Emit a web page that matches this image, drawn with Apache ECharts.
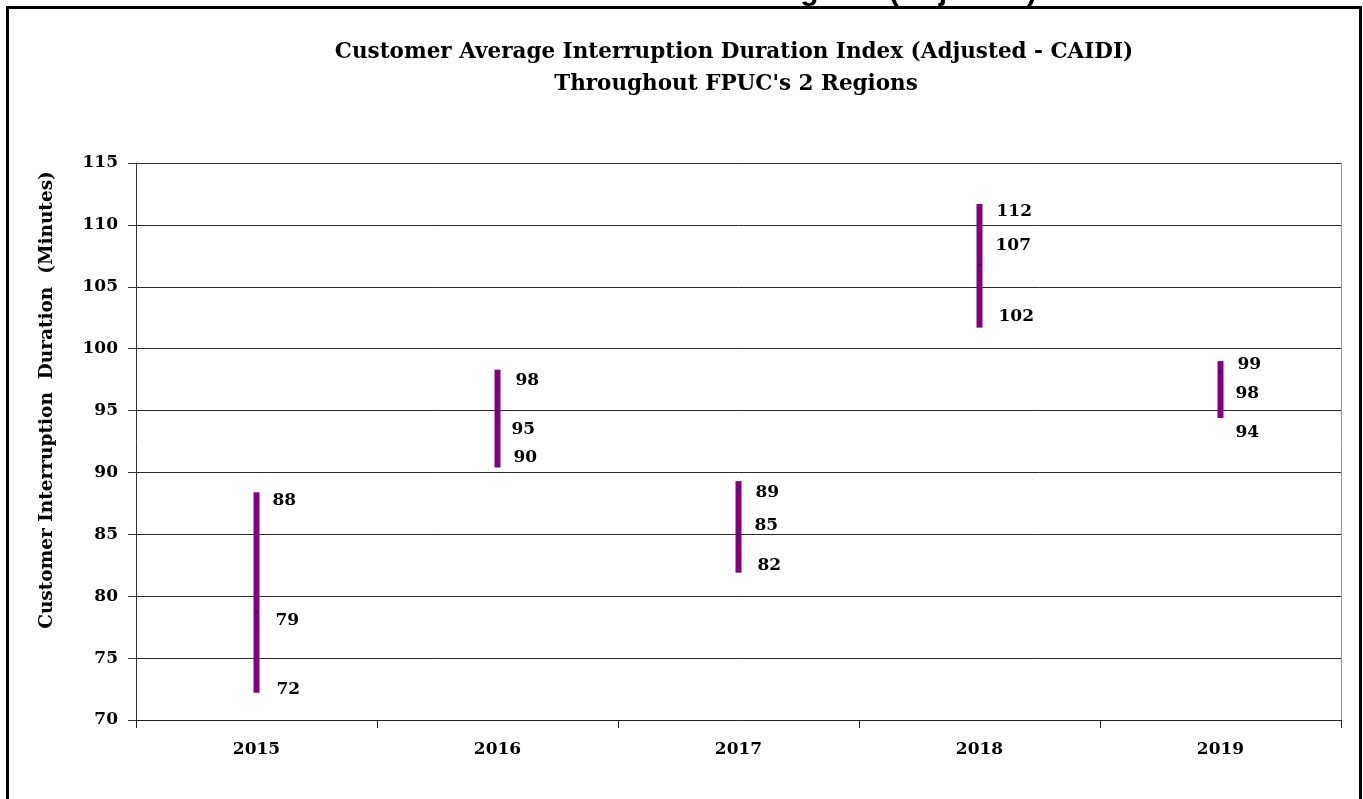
<!DOCTYPE html>
<html>
<head>
<meta charset="utf-8">
<script src="https://cdn.jsdelivr.net/npm/echarts@6/dist/echarts.min.js"></script>
<style>
  html, body { margin: 0; padding: 0; background: #fff; }
  #chart { width: 1363px; height: 799px; }
</style>
</head>
<body>
<div id="chart"></div>
<script>
// ---- data ----
const categories = ['2015', '2016', '2017', '2018', '2019'];
const highValues = [88.4, 98.3, 89.3, 111.7, 99.0];
const closeValues = [78.7, 95.0, 85.0, 106.8, 98.0];
const lowValues = [72.2, 90.4, 81.9, 101.7, 94.4];
const yTicks = { min: 70, max: 115, interval: 5 };
const titleLines = ['Customer Average Interruption Duration Index (Adjusted - CAIDI)', 'Throughout FPUC\'s 2 Regions'];
const yAxisTitle = 'Customer Interruption  Duration  (Minutes)';
const topBanner = 'Regions (Adjusted)';

// ---- label layout (pixel nudges, style only) ----
const highDx = [16, 18, 17, 17, 17], highDy = [8, 11, 11, 8, 4];
const midDx = [19, 14, 16, 16, 15], midDy = [8, 19, -9, -19, 20];
const lowDx = [20, 16, 19, 19, 15], lowDy = [-3, -10, -7, -11, 15];

const SERIF = '"DejaVu Serif", "Liberation Serif", serif';
const seriesData = categories.map((c, i) => [i, highValues[i], closeValues[i], lowValues[i]]);

const chart = echarts.init(document.getElementById('chart'), null, { renderer: 'canvas' });

function renderItem(params, api) {
  const i = api.value(0);
  const pH = api.coord([i, api.value(1)]);
  const pM = api.coord([i, api.value(2)]);
  const pL = api.coord([i, api.value(3)]);
  const lbl = (txt, x, y) => ({
    type: 'text',
    style: {
      text: txt, x: x, y: y,
      font: 'bold 17px ' + SERIF, fill: '#000',
      align: 'left', verticalAlign: 'middle'
    }
  });
  return {
    type: 'group',
    children: [
      { type: 'rect', shape: { x: pH[0] - 3, y: pH[1], width: 6, height: pL[1] - pH[1] },
        style: { fill: '#800080' } },
      { type: 'rect', shape: { x: pM[0] - 1, y: pM[1] - 1, width: 2, height: 2 },
        style: { fill: '#2b0030' } },
      lbl(String(Math.round(api.value(1))), pH[0] + highDx[i], pH[1] + highDy[i]),
      lbl(String(Math.round(api.value(2))), pM[0] + midDx[i], pM[1] + midDy[i]),
      lbl(String(Math.round(api.value(3))), pL[0] + lowDx[i], pL[1] + lowDy[i])
    ]
  };
}

chart.setOption({
  animation: false,
  backgroundColor: '#fff',
  grid: { left: 136, right: 22, top: 163, bottom: 79, containLabel: false },
  xAxis: {
    type: 'category', data: categories, boundaryGap: true,
    axisLine: { lineStyle: { color: '#222', width: 1 } },
    axisTick: { show: true, length: 8, lineStyle: { color: '#222' } },
    axisLabel: { fontFamily: SERIF, fontWeight: 'bold', fontSize: 17, color: '#000', margin: 21 },
    splitLine: { show: false }
  },
  yAxis: [{
    type: 'value', min: yTicks.min, max: yTicks.max, interval: yTicks.interval,
    axisLine: { show: true, lineStyle: { color: '#333', width: 1 } },
    axisTick: { show: true, length: 8, lineStyle: { color: '#333' } },
    axisLabel: { fontFamily: SERIF, fontWeight: 'bold', fontSize: 17, color: '#000', margin: 18 },
    splitLine: { show: true, lineStyle: { color: '#2a2a2a', width: 1 } }
  }, {
    type: 'value', position: 'right', min: yTicks.min, max: yTicks.max, interval: yTicks.interval,
    axisLine: { show: true, lineStyle: { color: '#999', width: 1 } },
    axisTick: { show: false }, axisLabel: { show: false }, splitLine: { show: false }
  }],
  graphic: [
    { type: 'rect', shape: { x: 7.5, y: 7.5, width: 1353, height: 820 },
      style: { fill: 'none', stroke: '#000', lineWidth: 3 }, z: 100 },
    { type: 'text', x: 1037, y: 7,
      style: { text: topBanner, font: 'bold 30px "Liberation Sans", Arial, sans-serif',
               fill: '#000', align: 'right', verticalAlign: 'bottom' }, z: 99 },
    { type: 'text', x: 734, y: 52,
      style: { text: titleLines[0], font: 'bold 21.5px ' + SERIF,
               fill: '#000', align: 'center', verticalAlign: 'middle' } },
    { type: 'text', x: 736, y: 84,
      style: { text: titleLines[1], font: 'bold 21.5px ' + SERIF,
               fill: '#000', align: 'center', verticalAlign: 'middle' } },
    { type: 'text', x: 47, y: 400, rotation: Math.PI / 2,
      style: { text: yAxisTitle, font: 'bold 18.5px ' + SERIF,
               fill: '#000', align: 'center', verticalAlign: 'middle' } }
  ],
  series: [{
    type: 'custom', renderItem: renderItem, data: seriesData,
    encode: { x: 0, y: [1, 2, 3] }, clip: false
  }]
});
</script>
</body>
</html>
